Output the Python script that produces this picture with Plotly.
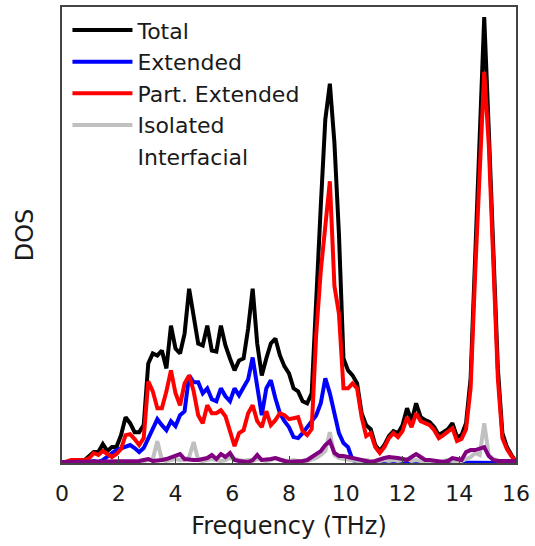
import numpy as np
import plotly.graph_objects as go

# frequency grid (THz)
freq = [round(0.16 * i, 2) for i in range(101)]

total = [0, 1, 2, 2, 3, 3, 7, 11, 11, 19,
         12, 16, 16, 28, 46, 40, 31, 31, 38, 100,
         110, 108, 113, 95, 138, 115, 110, 130, 175, 150,
         120, 118, 138, 113, 112, 138, 118, 105, 93, 103,
         105, 135, 175, 120, 88, 105, 120, 125, 108, 97,
         90, 75, 72, 62, 60, 70, 175, 258, 345, 381,
         322, 230, 105, 93, 88, 80, 50, 38, 34, 18,
         12, 18, 27, 32, 30, 38, 55, 42, 60, 46,
         43, 41, 36, 28, 31, 34, 40, 26, 28, 40,
         85, 206, 311, 448, 335, 205, 95, 30, 16, 8, 1]

extended = [0, 0, 0, 0, 0, 0, 1, 2, 1, 3,
            7, 10, 13, 15, 17, 18, 15, 11, 15, 24,
            35, 44, 38, 33, 42, 37, 48, 52, 88, 81,
            81, 70, 75, 64, 62, 75, 67, 62, 75, 68,
            76, 84, 106, 75, 48, 75, 83, 65, 50, 42,
            36, 26, 25, 30, 36, 42, 48, 60, 85, 70,
            48, 30, 20, 16, 3, 1, 1, 1, 1, 1,
            1, 1, 1, 1, 1, 1, 1, 1, 1, 1,
            1, 1, 1, 1, 1, 1, 1, 1, 1, 1,
            1, 1, 1, 1, 1, 1, 0, 0, 0, 0, 0]

part_extended = [0, 2, 3, 3, 3, 3, 5, 10, 8, 12,
                 9, 6, 9, 14, 28, 29, 24, 18, 25, 82,
                 72, 55, 55, 72, 93, 70, 58, 80, 88, 72,
                 48, 40, 58, 50, 50, 53, 47, 32, 17, 30,
                 33, 50, 58, 42, 36, 52, 38, 43, 50, 48,
                 44, 45, 46, 32, 28, 34, 130, 193, 240, 283,
                 178, 150, 75, 75, 80, 75, 46, 27, 30, 16,
                 10, 16, 25, 30, 26, 32, 46, 36, 50, 42,
                 40, 38, 33, 25, 28, 31, 35, 22, 24, 34,
                 75, 190, 295, 393, 320, 195, 85, 25, 14, 7, 1]

isolated = [0, 0, 0, 0, 0, 0, 0, 1, 0, 1,
            0, 1, 0, 1, 1, 1, 1, 1, 2, 3,
            4, 22, 3, 2, 3, 4, 3, 3, 6, 21,
            3, 2, 3, 4, 3, 2, 3, 5, 4, 3,
            2, 3, 2, 4, 3, 2, 3, 5, 3, 2,
            2, 3, 2, 1, 2, 3, 5, 8, 12, 31,
            8, 5, 4, 4, 3, 2, 2, 3, 2, 1,
            2, 3, 2, 3, 2, 3, 4, 2, 3, 2,
            1, 2, 1, 1, 2, 3, 2, 1, 2, 4,
            6, 10, 8, 40, 8, 4, 2, 1, 1, 1, 1]

interfacial = [1, 1, 1, 1, 1, 1, 1, 1, 1, 1,
               1, 1, 2, 2, 2, 2, 2, 2, 3, 4,
               2, 2, 3, 4, 6, 7, 9, 4, 3, 3,
               3, 4, 5, 8, 4, 9, 6, 10, 3, 2,
               2, 1, 3, 8, 3, 3, 4, 5, 3, 2,
               1, 1, 2, 2, 3, 6, 9, 12, 18, 22,
               10, 7, 7, 6, 5, 4, 2, 1, 1, 2,
               4, 5, 6, 6, 5, 4, 3, 6, 9, 6,
               3, 3, 2, 1, 1, 2, 5, 4, 3, 11,
               13, 13, 14, 16, 7, 3, 2, 2, 2, 2, 2]

series = [
    ("Total", total, "#000000"),
    ("Extended", extended, "#0000ff"),
    ("Part. Extended", part_extended, "#ff0000"),
    ("Isolated", isolated, "#c0c0c0"),
]

x_ticks = [0, 2, 4, 6, 8, 10, 12, 14, 16]

FONT = "DejaVu Sans"
LW = 4

fig = go.Figure()
for k, (name, vals, col) in enumerate(series):
    fig.add_trace(go.Scatter(x=freq, y=vals, mode="lines", name=name,
                             line=dict(color=col, width=LW),
                             legendgroup="g%d" % k))
fig.add_trace(go.Scatter(x=freq, y=interfacial, mode="lines", name="Interfacial",
                         line=dict(color="#800080", width=LW), showlegend=False))
fig.add_trace(go.Scatter(x=[None], y=[None], mode="lines", name="Interfacial",
                         line=dict(color="rgba(0,0,0,0)", width=LW),
                         legendgroup="g4"))

fig.update_layout(
    width=535, height=546,
    margin=dict(l=62, r=14, t=5, b=83),
    paper_bgcolor="white", plot_bgcolor="white",
    font=dict(family=FONT, color="#1a1a1a", size=22),
    showlegend=True,
    legend=dict(x=0.012, y=0.995, xanchor="left", yanchor="top",
                bgcolor="rgba(0,0,0,0)", font=dict(family=FONT, size=22),
                traceorder="grouped", tracegroupgap=0, itemwidth=60),
    xaxis=dict(range=[0, 16], tickvals=x_ticks, ticks="inside", ticklen=7,
               tickcolor="#444", showline=True, linecolor="#444", linewidth=1.5,
               mirror=True, showgrid=False, zeroline=False, ticklabelstandoff=10,
               tickfont=dict(size=22),
               title=dict(text="Frequency (THz)", font=dict(size=24), standoff=12)),
    yaxis=dict(range=[0, 458], showticklabels=False, ticks="", showline=True,
               linecolor="#444", linewidth=1.5, mirror=True, showgrid=False,
               zeroline=False, title=dict(text="DOS", font=dict(size=24), standoff=20)),
)

fig.write_html("out.html")
